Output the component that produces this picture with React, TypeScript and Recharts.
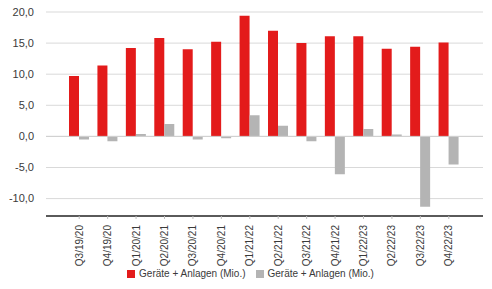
import React from "react";
import {
  BarChart,
  Bar,
  XAxis,
  YAxis,
  CartesianGrid,
  Legend,
  ReferenceLine,
} from "recharts";

const quarters = [
  "Q3/19/20",
  "Q4/19/20",
  "Q1/20/21",
  "Q2/20/21",
  "Q3/20/21",
  "Q4/20/21",
  "Q1/21/22",
  "Q2/21/22",
  "Q3/21/22",
  "Q4/21/22",
  "Q1/22/23",
  "Q2/22/23",
  "Q3/22/23",
  "Q4/22/23",
];

const umsatz = [9.7, 11.4, 14.2, 15.8, 14.0, 15.2, 19.4, 17.0, 15.0, 16.1, 16.1, 14.1, 14.4, 15.1];
const veraenderung = [-0.5, -0.8, 0.4, 2.0, -0.5, -0.3, 3.4, 1.7, -0.8, -6.1, 1.2, 0.3, -11.3, -4.5];

const yTicks = [-10, -5, 0, 5, 10, 15, 20];

const data = quarters.map((q, i) => ({
  quarter: q,
  a: umsatz[i],
  b: veraenderung[i],
}));

const FONT = "'Liberation Sans', Arial, sans-serif";

// rotierte Quartals-Labels
function QuarterTick(props: any) {
  const { x, y, payload } = props;
  return (
    <text
      x={0}
      y={0}
      transform={`translate(${x},${y + 4}) rotate(-90)`}
      textAnchor="end"
      dominantBaseline="central"
      fontSize={10}
      fill="#3a3a3a"
      fontFamily={FONT}
    >
      {payload.value}
    </text>
  );
}

export default function App() {
  return (
    <div style={{ width: 492, height: 289, background: "#fff" }}>
      <style>{"body{margin:0}"}</style>
      <BarChart
        width={492}
        height={289}
        data={data}
        margin={{ top: 12, right: 9, left: 0, bottom: 3 }}
        barCategoryGap={4}
        barGap={0}
      >
        <CartesianGrid vertical={false} stroke="#d9d9d9" />
        <XAxis
          dataKey="quarter"
          interval={0}
          height={52}
          tick={<QuarterTick />}
          tickLine={{ stroke: "#bdbdbd" }}
          tickSize={3}
          axisLine={{ stroke: "#5a5a5a", strokeWidth: 2 }}
          padding={{ left: 19, right: 20 }}
        />
        <YAxis
          width={46}
          domain={[-12.8, 20]}
          ticks={yTicks}
          allowDataOverflow
          axisLine={false}
          tickLine={false}
          tickMargin={6}
          tickFormatter={(v: number) => v.toFixed(1).replace(".", ",")}
          tick={{ fontSize: 11, fill: "#3a3a3a", fontFamily: FONT }}
        />
        <ReferenceLine y={0} stroke="#d0d0d0" />
        <Legend
          verticalAlign="bottom"
          iconType="square"
          iconSize={8}
          height={18}
          wrapperStyle={{ fontSize: 10, fontFamily: FONT, color: "#3a3a3a", left: 14 }}
          formatter={(value: string) => <span style={{ color: "#3a3a3a" }}>{value}</span>}
        />
        <Bar
          dataKey="a"
          name="Geräte + Anlagen (Mio.)"
          fill="#e31b1b"
          isAnimationActive={false}
        />
        <Bar
          dataKey="b"
          name="Geräte + Anlagen (Mio.)"
          fill="#b4b4b4"
          isAnimationActive={false}
        />
      </BarChart>
    </div>
  );
}
